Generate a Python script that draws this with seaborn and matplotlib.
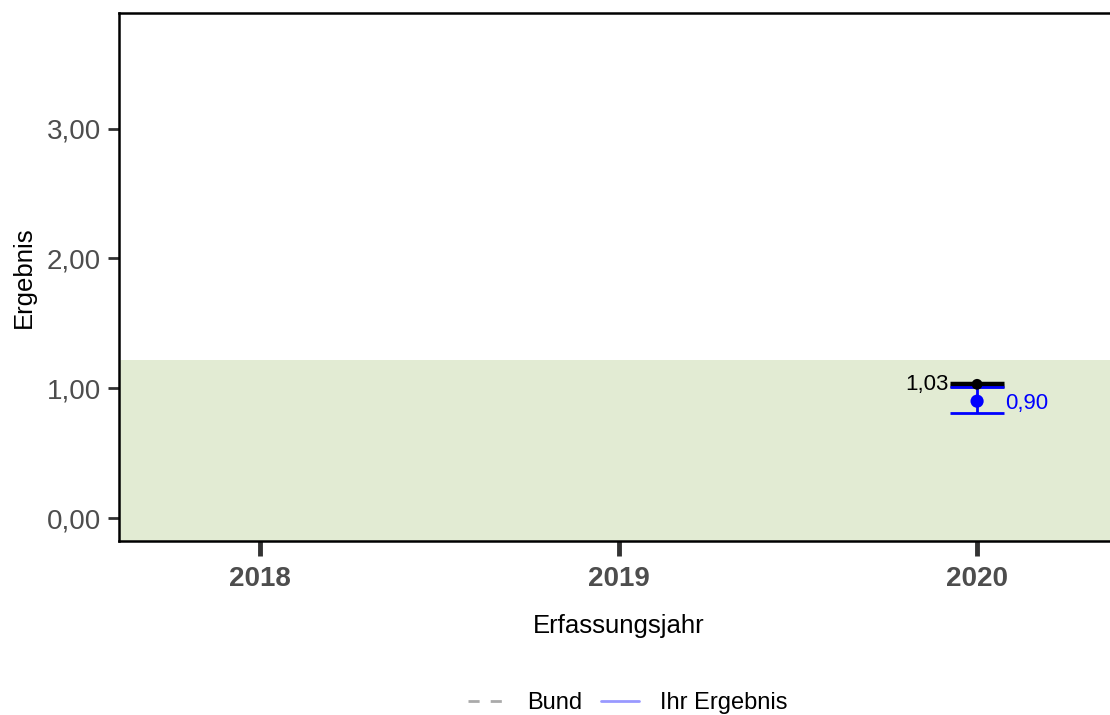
import numpy as np
import pandas as pd
import matplotlib
matplotlib.use('Agg')
import matplotlib.pyplot as plt
import seaborn as sns
from matplotlib.lines import Line2D

# Data
years = [2018, 2019, 2020]
bund_wert = [np.nan, np.nan, 1.03]
bund_unten = [np.nan, np.nan, 1.02]
bund_oben = [np.nan, np.nan, 1.04]
ihr_wert = [np.nan, np.nan, 0.90]
ihr_unten = [np.nan, np.nan, 0.81]
ihr_oben = [np.nan, np.nan, 1.01]
referenz_oben = 1.22

sns.set_style('white')
plt.rcParams['font.family'] = ['Liberation Sans', 'DejaVu Sans']
plt.rcParams['text.color'] = 'black'
plt.rcParams['axes.labelcolor'] = 'black'

df = pd.DataFrame({'Jahr': years, 'Bund': bund_wert, 'Bund_u': bund_unten, 'Bund_o': bund_oben,
                   'Ihr': ihr_wert, 'Ihr_u': ihr_unten, 'Ihr_o': ihr_oben}).dropna()

fig = plt.figure(figsize=(11.1, 7.15), dpi=100)
ax = fig.add_axes([119 / 1110, 1 - 541 / 715, 999 / 1110, 528 / 715])

# Referenzbereich
ax.axhspan(-1, referenz_oben, color='#e2ebd3', zorder=0, lw=0)

# Bund: error bar + point
ax.errorbar(df['Jahr'], df['Bund'], yerr=[df['Bund'] - df['Bund_u'], df['Bund_o'] - df['Bund']],
            fmt='none', ecolor='black', elinewidth=2, capsize=19.5, capthick=2.5, zorder=3)
sns.scatterplot(data=df, x='Jahr', y='Bund', color='black', s=60, edgecolor='none', ax=ax, zorder=4)

# Ihr Ergebnis
ax.errorbar(df['Jahr'], df['Ihr'], yerr=[df['Ihr'] - df['Ihr_u'], df['Ihr_o'] - df['Ihr']],
            fmt='none', ecolor='blue', elinewidth=2, capsize=19.5, capthick=2, zorder=3)
sns.scatterplot(data=df, x='Jahr', y='Ihr', color='blue', s=90, edgecolor='none', ax=ax, zorder=5)

for _, r in df.iterrows():
    ax.text(r['Jahr'] - 0.08, r['Bund'], f"{r['Bund']:.2f}".replace('.', ','), ha='right', va='center',
            fontsize=16, color='black')
    ax.text(r['Jahr'] + 0.078, r['Ihr'] - 0.015, f"{r['Ihr']:.2f}".replace('.', ','), ha='left', va='center',
            fontsize=16, color='blue')

ax.set_xlim(2017.607, 2020.393)
ax.set_ylim(-0.177, 3.89)
ax.set_xticks(years)
ax.set_xticklabels([str(y) for y in years], fontweight='bold', fontsize=20, color='#4d4d4d')
ax.set_yticks([0, 1, 2, 3])
ax.set_yticklabels(['0,00', '1,00', '2,00', '3,00'], fontsize=20, color='#4d4d4d')
ax.tick_params(axis='x', bottom=True, length=11, width=3.5, color='#333333', pad=7)
ax.tick_params(axis='y', left=True, length=8, width=2, color='#333333', pad=5)
ax.set_xlabel('Erfassungsjahr', fontsize=18.5, labelpad=16)
ax.set_ylabel('Ergebnis', fontsize=18.5, labelpad=8)

for side in ['left', 'top', 'bottom']:
    ax.spines[side].set_color('black')
    ax.spines[side].set_linewidth(1.8)
ax.spines['right'].set_visible(False)

handles = [Line2D([0], [0], color='#aaaaaa', lw=2, ls=(0, (4, 4))),
           Line2D([0], [0], color='#9999ff', lw=2)]
fig.legend(handles, ['Bund', 'Ihr Ergebnis'], loc='center', bbox_to_anchor=(628 / 1110, 1 - 703 / 715),
           ncol=2, frameon=False, fontsize=17, handlelength=1.6, columnspacing=0.8, handletextpad=0.9,
           borderpad=0)

fig.savefig('out.png', dpi=100)
